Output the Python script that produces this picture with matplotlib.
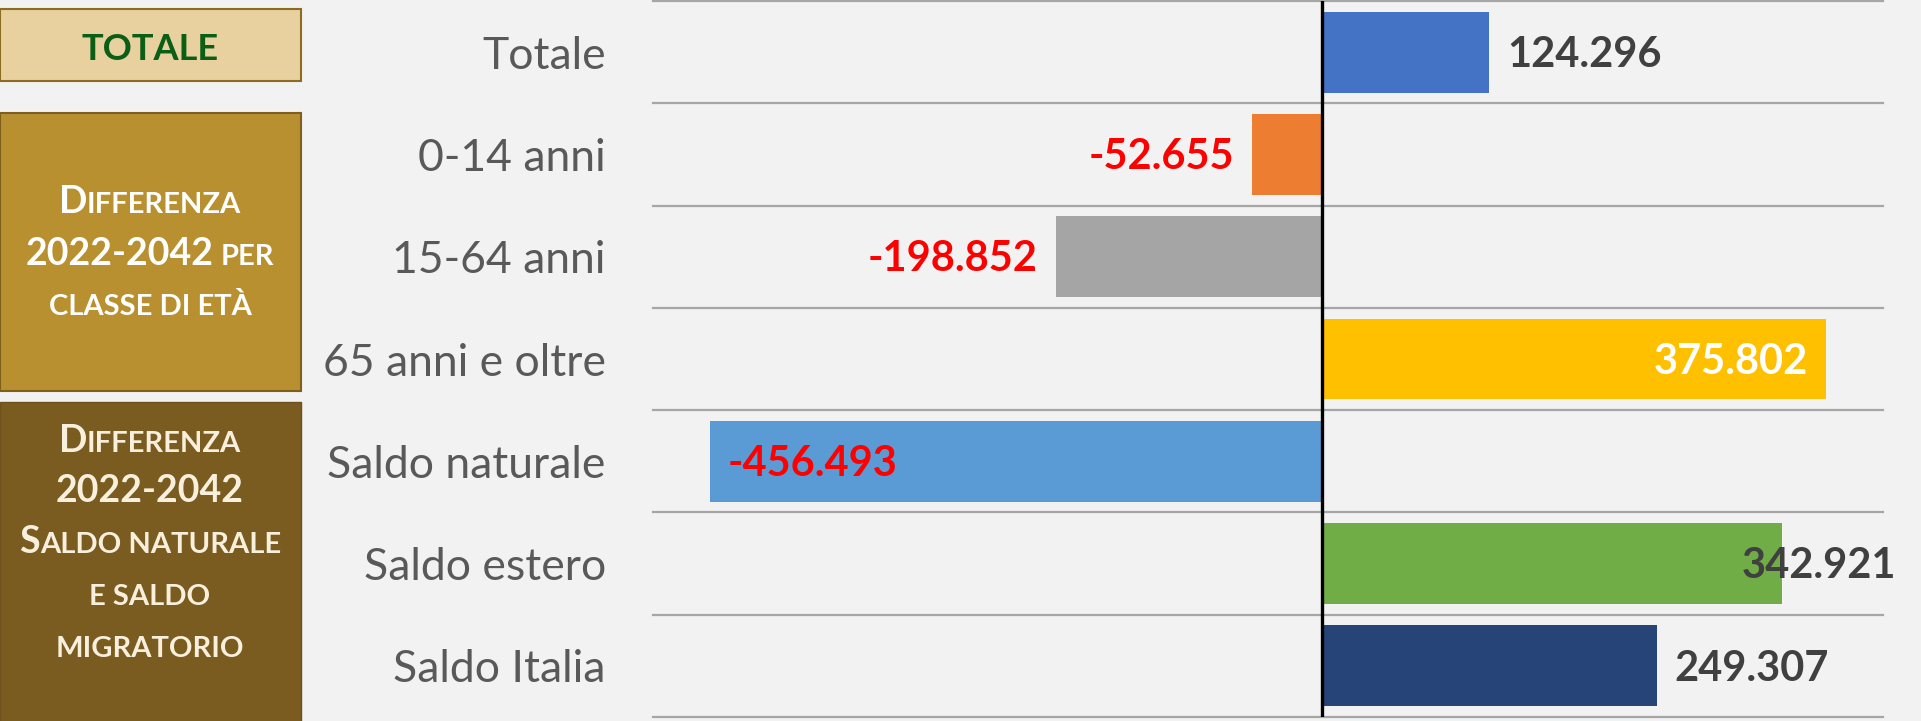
import numpy as np
import matplotlib
matplotlib.use("Agg")
import matplotlib.pyplot as plt
from matplotlib.patches import Rectangle

# dati: differenza popolazione 2022-2042
categorie = ["Totale", "0-14 anni", "15-64 anni", "65 anni e oltre",
             "Saldo naturale", "Saldo estero", "Saldo Italia"]
valori = [124296, -52655, -198852, 375802, -456493, 342921, 249307]

colori_barre = ["#4472C4", "#ED7D31", "#A5A5A5", "#FFC000",
                "#5B9BD5", "#70AD47", "#264478"]
# posizione etichetta: fuori / dentro / a cavallo della fine della barra
pos_etichette = ["fuori", "fuori", "fuori", "dentro", "dentro", "cavallo", "fuori"]

W, H, DPI = 1921, 721, 100
SFONDO = "#F2F2F2"
FONT = "Lato"

fig = plt.figure(figsize=(W / DPI, H / DPI), dpi=DPI, facecolor=SFONDO)

# assi di sfondo in pixel (origine in alto a sinistra) per i riquadri
bg = fig.add_axes([0, 0, 1, 1], zorder=0)
bg.set_xlim(0, W)
bg.set_ylim(H, 0)
bg.axis("off")

ax = fig.add_axes([653 / W, 4 / H, (1883 - 653) / W, 716 / H], zorder=1)
ax.set_facecolor(SFONDO)
ax.patch.set_alpha(0)

y = np.arange(len(categorie))
ax.barh(y, valori, height=0.79, color=colori_barre, zorder=2)
ax.set_xlim(-499000, 418000)
ax.set_ylim(len(categorie) - 0.5, -0.5)

for b in np.arange(len(categorie) + 1) - 0.5:
    ax.axhline(b, color="#A6A6A6", lw=1.6, zorder=1, clip_on=False)
ax.axvline(0, color="black", lw=2.4, zorder=3)

for s in ax.spines.values():
    s.set_visible(False)
ax.set_xticks([])
ax.set_yticks(y)
ax.set_yticklabels(categorie, fontsize=32, color="#595959", family=FONT)
ax.tick_params(axis="y", length=0, pad=34)

# etichette dei valori
for i, (v, p) in enumerate(zip(valori, pos_etichette)):
    testo = f"{v:,}".replace(",", ".")
    segno = 1 if v >= 0 else -1
    if v < 0:
        col = "#FF0000"
    elif p == "dentro":
        col = "white"
    else:
        col = "#404040"
    if p == "fuori":
        dx, ha = 13 * segno, "left" if v >= 0 else "right"
    elif p == "dentro":
        dx, ha = -13 * segno, "right" if v >= 0 else "left"
    else:
        dx, ha = -29, "left"
    ax.annotate(testo, xy=(v, i), xytext=(dx, -2), textcoords="offset points",
                ha=ha, va="center", fontsize=30, fontweight="bold",
                color=col, family=FONT, zorder=4)

# riquadri a sinistra
bg.add_patch(Rectangle((0, 9), 301, 72, facecolor="#E8D19E",
                       edgecolor="#8C6D1F", lw=1.5))
bg.add_patch(Rectangle((0, 113), 301, 278, facecolor="#B8902F",
                       edgecolor="#7F5F1E", lw=1.5))
bg.add_patch(Rectangle((0, 402), 301, 330, facecolor="#7A5B20",
                       edgecolor="#6E521C", lw=1.0))

bg.text(150, 60, "TOTALE", ha="center", va="baseline", fontsize=26,
        fontweight="bold", color="#0B5E16", family=FONT)

renderer = fig.canvas.get_renderer()
GRANDE, PICCOLO = 27, 21


def riga(y_base, pezzi, colore, x_centro=150):
    # finto maiuscoletto: pezzi di testo con corpi diversi
    testi, larg = [], []
    for testo, size in pezzi:
        spazio = 0
        if testo.startswith(" "):
            testo = testo.strip()
            spazio = 0.25 * size * DPI / 72
        t = bg.text(0, y_base, testo, fontsize=size, fontweight="bold",
                    color=colore, va="baseline", ha="left", family=FONT)
        testi.append((t, spazio))
        larg.append(t.get_window_extent(renderer).width + spazio)
    x = x_centro - sum(larg) / 2
    for (t, spazio), w in zip(testi, larg):
        t.set_x(x + spazio)
        x += w


riga(213, [("D", GRANDE), ("IFFERENZA", PICCOLO)], "white")
riga(265, [("2022-2042", GRANDE), (" PER", PICCOLO)], "white")
riga(315, [("CLASSE DI ETÀ", PICCOLO)], "white")

crema = "#F8F0DD"
riga(452, [("D", GRANDE), ("IFFERENZA", PICCOLO)], crema)
riga(502, [("2022-2042", GRANDE)], crema)
riga(553, [("S", GRANDE), ("ALDO NATURALE", PICCOLO)], crema)
riga(605, [("E SALDO", PICCOLO)], crema)
riga(657, [("MIGRATORIO", PICCOLO)], crema)

fig.savefig("out.png", dpi=DPI, facecolor=SFONDO)
